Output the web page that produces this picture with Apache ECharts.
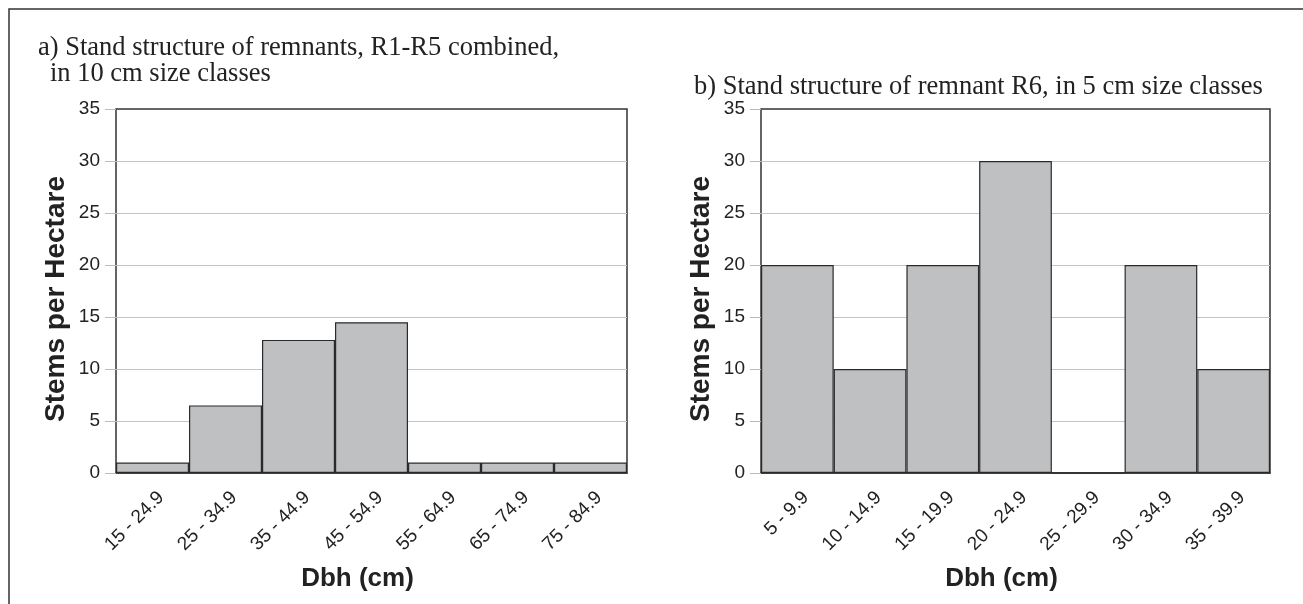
<!DOCTYPE html>
<html>
<head>
<meta charset="utf-8">
<script src="https://cdn.jsdelivr.net/npm/echarts@6/dist/echarts.min.js"></script>
<style>
html,body{margin:0;padding:0;background:#fff;}
#chart{width:1303px;height:604px;}
</style>
</head>
<body>
<div id="chart"></div>
<script>
// Data
var catsA = ['15 - 24.9','25 - 34.9','35 - 44.9','45 - 54.9','55 - 64.9','65 - 74.9','75 - 84.9'];
var valsA = [1, 6.5, 12.8, 14.5, 1, 1, 1];
var catsB = ['5 - 9.9','10 - 14.9','15 - 19.9','20 - 24.9','25 - 29.9','30 - 34.9','35 - 39.9'];
var valsB = [20, 10, 20, 30, 0, 20, 10];
var titleA1 = 'a) Stand structure of remnants, R1-R5 combined,';
var titleA2 = 'in 10 cm size classes';
var titleB = 'b) Stand structure of remnant R6, in 5 cm size classes';
var yName = 'Stems per Hectare';
var xName = 'Dbh (cm)';

var sans = 'Liberation Sans, Arial, sans-serif';
var serif = 'Liberation Serif, Times New Roman, serif';

function xAxisCfg(idx, cats){
  return {
    type:'category', gridIndex: idx, data: cats,
    axisLine:{show:true, lineStyle:{color:'#333', width:1.5}},
    axisTick:{show:false},
    axisLabel:{rotate:45, fontSize:19, color:'#222', fontFamily:sans, margin:30, interval:0, padding:[0,-12,0,0]},
    name: xName, nameLocation:'middle', nameGap:93,
    nameTextStyle:{fontSize:26, fontWeight:'bold', color:'#222', fontFamily:sans, padding:[0,28,0,0]}
  };
}
function yAxisCfg(idx){
  return {
    type:'value', gridIndex: idx, min:0, max:35, interval:5,
    axisLine:{show:false},
    axisTick:{show:true, length:11, lineStyle:{color:'#bbb', width:1}},
    axisLabel:{fontSize:19, color:'#222', fontFamily:sans, margin:16},
    splitLine:{show:true, showMinLine:false, showMaxLine:false, lineStyle:{color:'#c4c4c4', width:1}},
    name: yName, nameLocation:'middle', nameGap:46,
    nameTextStyle:{fontSize:28, fontWeight:'bold', color:'#222', fontFamily:sans, padding:[0,16,0,0]}
  };
}
function barSeries(idx, vals){
  return {
    type:'bar', xAxisIndex: idx, yAxisIndex: idx, data: vals,
    barCategoryGap:'0%',
    itemStyle:{color:'#bfc0c2', borderColor:'#2a2a2a', borderWidth:1.2},
    silent:true
  };
}

var chart = echarts.init(document.getElementById('chart'), null, {renderer:'canvas'});
chart.setOption({
  animation:false,
  backgroundColor:'#fff',
  title:[
    {text:titleA1, left:33, top:30, textStyle:{fontFamily:serif, fontSize:26.5, fontWeight:'normal', color:'#222'}},
    {text:titleA2, left:45, top:56, textStyle:{fontFamily:serif, fontSize:26.5, fontWeight:'normal', color:'#222'}},
    {text:titleB, left:689, top:69, textStyle:{fontFamily:serif, fontSize:26.5, fontWeight:'normal', color:'#222'}}
  ],
  grid:[
    {left:116, right:676, top:109, bottom:131, show:true, borderColor:'#333', borderWidth:1.5, backgroundColor:'transparent'},
    {left:761, right:33, top:109, bottom:131, show:true, borderColor:'#333', borderWidth:1.5, backgroundColor:'transparent'}
  ],
  xAxis:[xAxisCfg(0, catsA), xAxisCfg(1, catsB)],
  yAxis:[yAxisCfg(0), yAxisCfg(1)],
  series:[barSeries(0, valsA), barSeries(1, valsB)],
  graphic:[
    {type:'polyline', silent:true, shape:{points:[[9,604],[9,9],[1303,9]]}, style:{stroke:'#333', lineWidth:1.5, fill:null}}
  ]
});
</script>
</body>
</html>
